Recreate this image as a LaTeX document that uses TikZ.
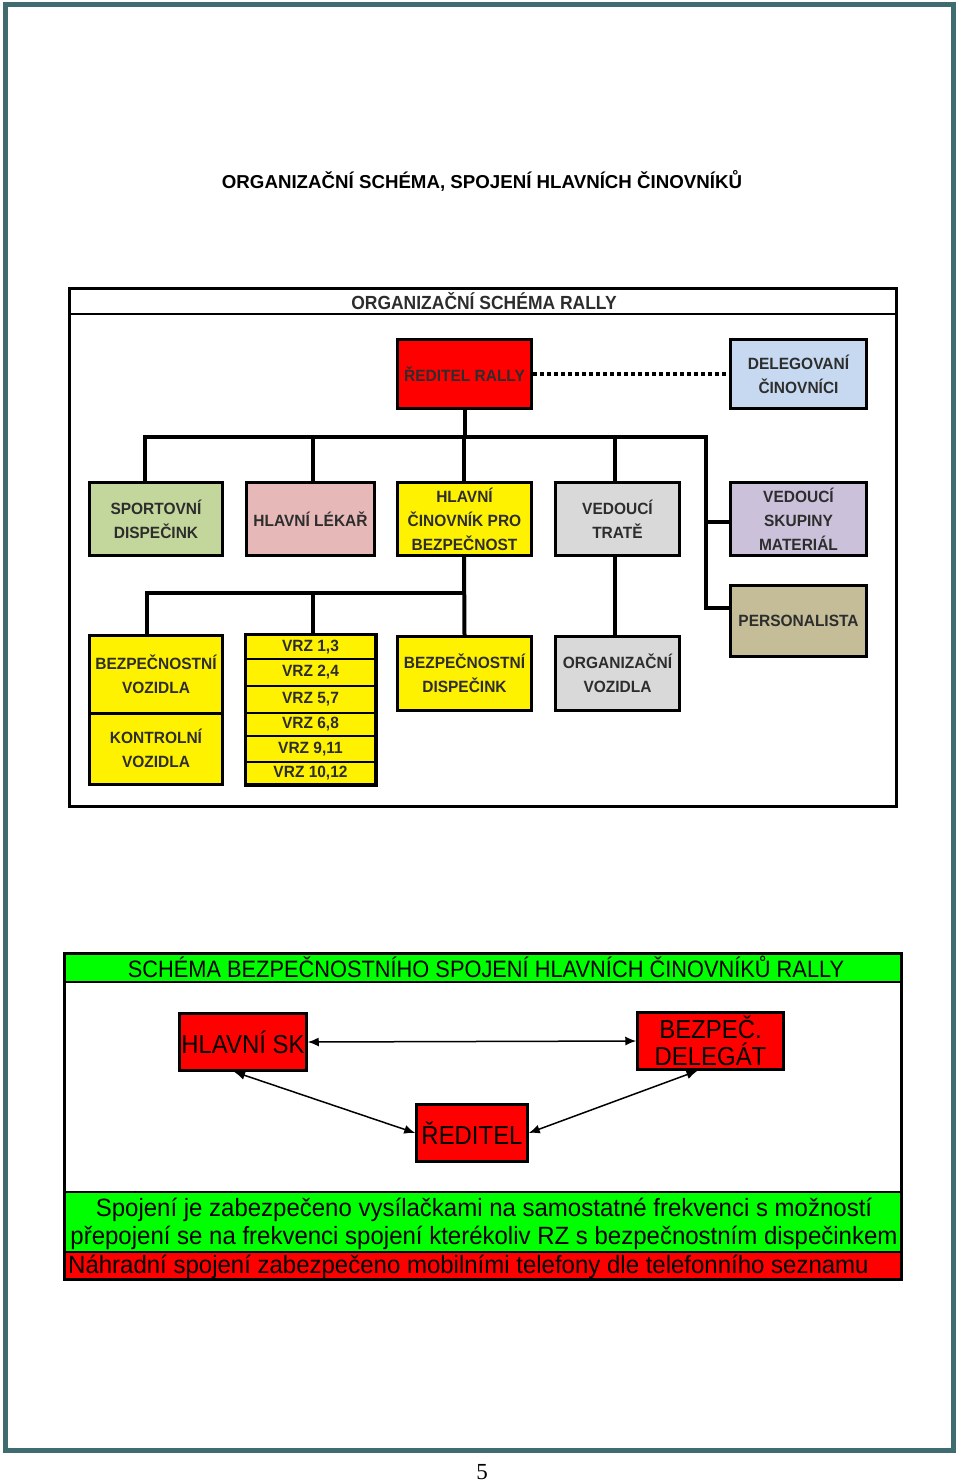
\documentclass[tikz,border=0pt]{standalone}
\usepackage{fontspec}
\setmainfont{Liberation Serif}
\newfontfamily\titlefont{Liberation Sans}
\newfontfamily\boxfont[FakeStretch=0.95]{Liberation Sans}
\newfontfamily\narrowfont[FakeStretch=0.92]{Liberation Sans}
\newfontfamily\bandfont[FakeStretch=0.96]{Liberation Sans}
\usetikzlibrary{arrows.meta}

\definecolor{framecol}{RGB}{63,108,112}
\definecolor{sportgreen}{RGB}{195,214,155}
\definecolor{lekarpink}{RGB}{230,185,184}
\definecolor{delblue}{RGB}{198,217,241}
\definecolor{tratgray}{RGB}{217,217,217}
\definecolor{matlav}{RGB}{204,193,218}
\definecolor{perstan}{RGB}{196,189,151}
\definecolor{boxtext}{RGB}{45,45,45}
\definecolor{lightgreen}{RGB}{0,255,0}

\tikzset{
  orgbox/.style={draw, line width=3pt, align=center, inner sep=0pt,
    text=boxtext, font=\boxfont\bfseries\fontsize{16.3}{24}\selectfont},
  conn/.style={line width=4pt},
  linkbox/.style={draw, line width=2.5pt, fill=red, align=center, inner sep=0pt,
    minimum height=57pt, font=\narrowfont\fontsize{26}{27}\selectfont},
  link/.style={line width=1.5pt, {Latex[length=11pt,width=9pt]}-{Latex[length=11pt,width=9pt]}}
}

\begin{document}
\begin{tikzpicture}[x=1pt, y=-1pt]
\useasboundingbox (0,0) rectangle (960,1482);
\fill[white] (0,0) rectangle (960,1482);
\draw[framecol, line width=5pt] (5.5,4.5) rectangle (953.5,1450.5);

\node[font=\titlefont\bfseries\fontsize{18.7}{22}\selectfont] (title) at (482,181)
  {ORGANIZAČNÍ SCHÉMA, SPOJENÍ HLAVNÍCH ČINOVNÍKŮ};

% organizacni schema
\draw[line width=2pt] (69.5,314) -- (896.5,314);
\node[text=boxtext, font=\narrowfont\bfseries\fontsize{19}{20}\selectfont] (hdrtop) at (484,301)
  {ORGANIZAČNÍ SCHÉMA RALLY};

\node[orgbox, fill=red, minimum width=134pt, minimum height=69pt] (reditel) at (464.5,374) {ŘEDITEL RALLY};
\node[orgbox, fill=delblue, minimum width=136pt, minimum height=69pt] (deleg) at (798.5,374) {DELEGOVANÍ\\ČINOVNÍCI};

\node[orgbox, fill=sportgreen, minimum width=133pt, minimum height=73pt] (sport) at (156,519) {SPORTOVNÍ\\DISPEČINK};
\node[orgbox, fill=lekarpink, minimum width=128pt, minimum height=73pt] (lekar) at (310.5,519) {HLAVNÍ LÉKAŘ};
\node[orgbox, fill=yellow, minimum width=134pt, minimum height=73pt] (cinov) at (464.5,519) {HLAVNÍ\\ČINOVNÍK PRO\\BEZPEČNOST};
\node[orgbox, fill=tratgray, minimum width=124pt, minimum height=73pt] (trat) at (617.5,519) {VEDOUCÍ\\TRATĚ};
\node[orgbox, fill=matlav, minimum width=136pt, minimum height=73pt] (matrl) at (798.5,519) {VEDOUCÍ\\SKUPINY\\MATERIÁL};
\node[orgbox, fill=perstan, minimum width=136pt, minimum height=71pt] (person) at (798.5,621) {PERSONALISTA};

\node[orgbox, fill=yellow, minimum width=133pt, minimum height=78pt] (bezvoz) at (156,674) {BEZPEČNOSTNÍ\\VOZIDLA};
\node[orgbox, fill=yellow, minimum width=133pt, minimum height=71pt] (kontvoz) at (156,748.5) {KONTROLNÍ\\VOZIDLA};
\foreach \ya/\yb/\lab [count=\i] in {635/659/{VRZ 1,3}, 659/686/{VRZ 2,4}, 686/713/{VRZ 5,7},
    713/736/{VRZ 6,8}, 736/762/{VRZ 9,11}, 762/784/{VRZ 10,12}}
  {\node[orgbox, fill=yellow, line width=2pt, minimum width=129pt, minimum height=\yb-\ya]
     (vrz\i) at (310.5,{(\ya+\yb)/2}) {\lab};}
\draw[line width=3pt] (vrz1.north west) rectangle (vrz6.south east);
\node[orgbox, fill=yellow, minimum width=134pt, minimum height=74pt] (bezdisp) at (464.5,673.5) {BEZPEČNOSTNÍ\\DISPEČINK};
\node[orgbox, fill=tratgray, minimum width=124pt, minimum height=74pt] (orgvoz) at (617.5,673.5) {ORGANIZAČNÍ\\VOZIDLA};

\coordinate (busa) at (145,437);
\coordinate (busb) at (147,593);
\draw[conn] (reditel.south) -- (reditel.south |- busa);
\draw[conn] (busa |- sport.north) -- (busa) -- (706,437) |- (person.west |- 608,608);
\draw[conn] (706,522) -- (matrl.west |- 522,522);
\foreach \x in {313,464,615}
  {\draw[conn] (\x,437) -- (\x,481);}
\draw[conn] (464,557) -- (bezdisp.north);
\draw[conn] (bezvoz.north -| busb) -- (busb) -- (464,593);
\draw[conn] (313,593) -- (vrz1.north -| 313,0);
\draw[conn] (trat.south -| 615,0) -- (orgvoz.north -| 615,0);
\draw[line width=4pt, dash pattern=on 4pt off 3pt] (reditel.east) -- (deleg.west);

\draw[line width=3pt] (69.5,288.5) rectangle (896.5,806.5);

% bezpecnostni spojeni
\filldraw[fill=lightgreen, line width=2pt] (64.5,953.5) rectangle (901.5,982);
\node[font=\narrowfont\fontsize{23.7}{25}\selectfont] (hdrbot) at (486,967)
  {SCHÉMA BEZPEČNOSTNÍHO SPOJENÍ HLAVNÍCH ČINOVNÍKŮ RALLY};

\node[linkbox, minimum width=127pt] (hlsk) at (243,1042) {HLAVNÍ SK};
\node[linkbox, minimum width=146pt] (bezdel) at (710.5,1041) {BEZPEČ.\\DELEGÁT};
\node[linkbox, minimum width=111pt] (red) at (472,1133) {ŘEDITEL};

\draw[link] (hlsk.east) -- (bezdel.west);
\draw[link] ([xshift=-9pt]hlsk.south) -- (red.west);
\draw[link] ([xshift=-13pt]bezdel.south) -- (red.east);

\filldraw[fill=lightgreen, line width=2pt] (64.5,1192) rectangle (901.5,1252);
\filldraw[fill=red, line width=2pt] (64.5,1252) rectangle (901.5,1279.5);
\node[font=\bandfont\fontsize{25}{28}\selectfont, align=center] (spoj) at (484,1224)
  {Spojení je zabezpečeno vysílačkami na samostatné frekvenci s možností\\
   přepojení se na frekvenci spojení kterékoliv RZ s bezpečnostním dispečinkem};
\node[font=\bandfont\fontsize{25}{27}\selectfont, anchor=west, inner sep=0pt] (nahr) at (68,1267)
  {Náhradní spojení zabezpečeno mobilními telefony dle telefonního seznamu};

\draw[line width=3pt] (64.5,953.5) rectangle (901.5,1279.5);

\node[font=\fontsize{23}{26}\selectfont] (pagenum) at (482,1472) {5};
\end{tikzpicture}
\end{document}
